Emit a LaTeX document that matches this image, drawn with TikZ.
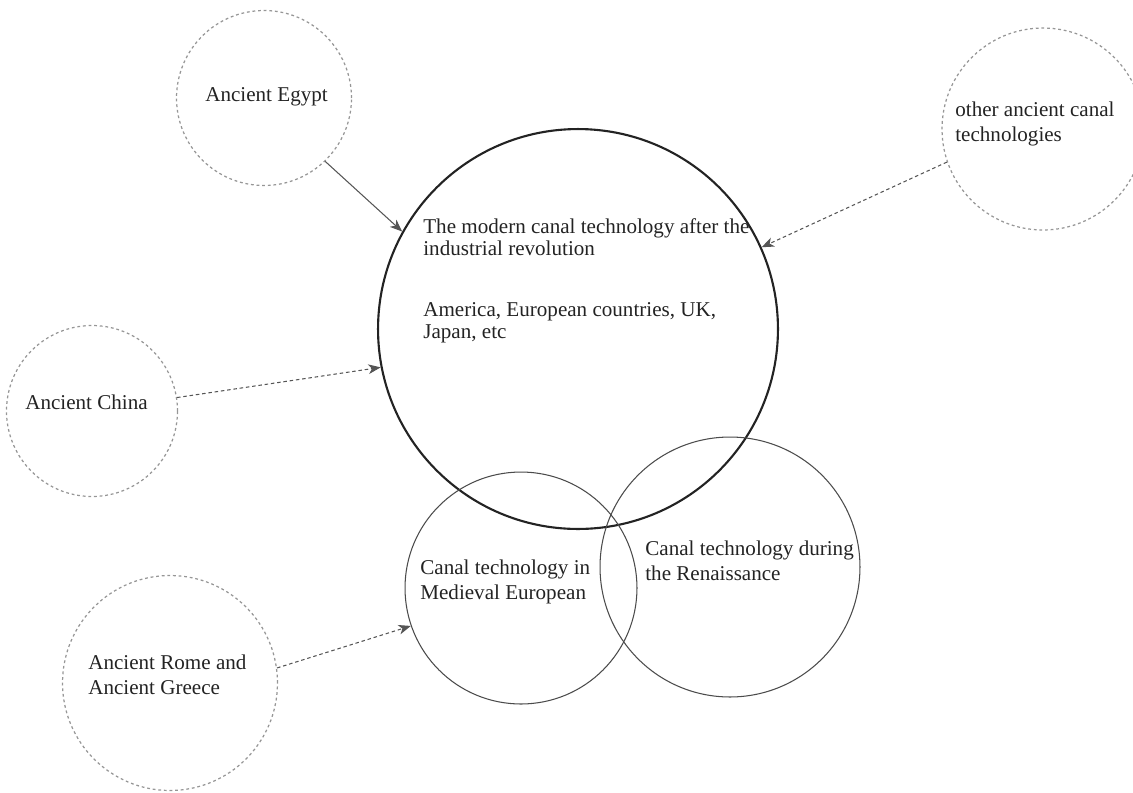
\documentclass[tikz,border=0pt]{standalone}
\usepackage{fontspec}
\setmainfont{Liberation Serif}
\definecolor{dotgray}{RGB}{150, 150, 150}
\definecolor{arrowgray}{RGB}{85, 85, 85}
\definecolor{inkdark}{RGB}{35, 35, 35}
\definecolor{ringgray}{RGB}{75, 75, 75}
\usetikzlibrary{shapes, arrows.meta, positioning, calc}

\begin{document}
\begin{tikzpicture}[x=0.02cm, y=-0.02cm,
  oldcirc/.style={circle, draw=dotgray, line width=0.7pt, dash pattern=on 1.6pt off 1.6pt, inner sep=0pt},
  eracirc/.style={circle, draw=ringgray, line width=0.6pt, inner sep=0pt},
  txt/.style={anchor=west, align=left, inner sep=0pt, text=inkdark, font=\fontsize{12}{14}\selectfont},
  link/.style={draw=arrowgray, line width=0.6pt, -{Stealth[length=7pt, width=5.5pt, inset=2pt]}},
  dashlink/.style={link, dash pattern=on 2pt off 1.6pt}]
  \useasboundingbox (0, 0) rectangle (1133, 792);

  % the modern canal technology
  \node[circle, draw=inkdark, line width=1.2pt, inner sep=0pt, minimum size=8cm] (modern) at (578, 329) {};
  \node[txt, font=\fontsize{12}{12.6}\selectfont] (moderntxt) at (423, 281) {The modern canal technology after the\\industrial revolution\\[0.78cm]America, European countries, UK,\\Japan, etc};

  % medieval and renaissance
  \node[eracirc, minimum size=4.64cm] (medieval) at (521, 588) {};
  \node[txt] (medievaltxt) at (420, 582) {Canal technology in\\Medieval European};
  \node[eracirc, minimum size=5.2cm] (renaiss) at (730, 567) {};
  \node[txt] (renaisstxt) at (645, 561) {Canal technology during\\the Renaissance};

  % ancient sources
  \node[oldcirc, minimum size=3.5cm] (egypt) at (264, 98) {};
  \node[txt] (egypttxt) at (205, 97) {Ancient Egypt};
  \node[oldcirc, minimum size=3.42cm] (china) at (92, 411) {};
  \node[txt] (chinatxt) at (25, 402) {Ancient China};
  \node[oldcirc, minimum size=4.04cm] (other) at (1043, 129) {};
  \node[txt] (othertxt) at (955, 124) {other ancient canal\\technologies};
  \node[oldcirc, minimum size=4.3cm] (rome) at (170, 683) {};
  \node[txt] (rometxt) at (88, 675) {Ancient Rome and\\Ancient Greece};

  % arrows
  \draw[link] (egypt.-46) -- (modern.151);
  \draw[dashlink] (china.9) -- (modern.191);
  \draw[dashlink] (other.199) -- (modern.24);
  \draw[dashlink] (rome.8) -- (medieval.199);
\end{tikzpicture}
\end{document}
